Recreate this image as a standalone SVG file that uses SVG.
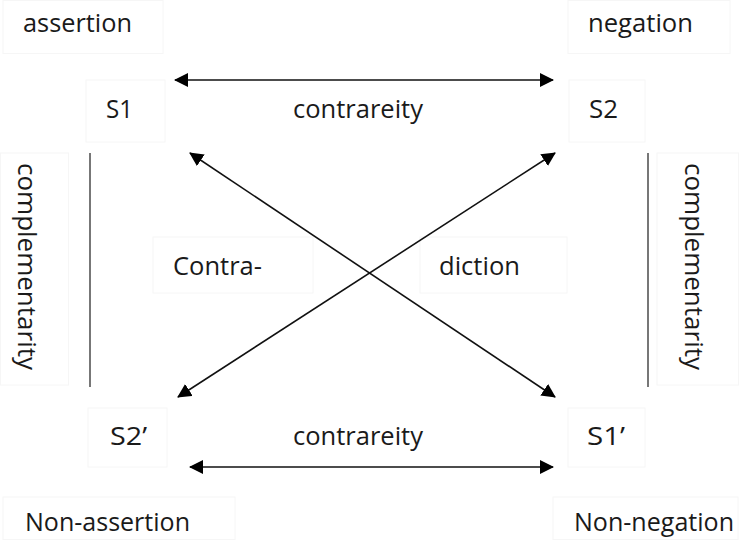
<svg xmlns="http://www.w3.org/2000/svg" width="739" height="540" viewBox="0 0 739 540">
  <defs>
    <style>
      .box { fill: #ffffff; stroke: #f6f6f6; stroke-width: 1; }
      .lbl { font-family: "Open Sans", "Liberation Sans", sans-serif; font-size: 26px; fill: #1a1a1a; }
      .conn { stroke: #111111; stroke-width: 1.6; fill: none; }
      .bar { stroke: #555555; stroke-width: 1.6; fill: none; }
    </style>
    <marker id="arr" markerUnits="userSpaceOnUse" viewBox="0 0 14 14" markerWidth="14" markerHeight="14" refX="13" refY="7" orient="auto-start-reverse">
      <path d="M0,0 L14,7 L0,14 z" fill="#000000"/>
    </marker>
  </defs>
  <rect width="739" height="540" fill="#ffffff"/>

  <g id="assertion">
    <rect class="box" x="3" y="0.5" width="160" height="53"/>
    <text class="lbl" x="23" y="32" textLength="109" lengthAdjust="spacingAndGlyphs">assertion</text>
  </g>
  <g id="negation">
    <rect class="box" x="568" y="0.5" width="162" height="53"/>
    <text class="lbl" x="588" y="32" textLength="105" lengthAdjust="spacingAndGlyphs">negation</text>
  </g>
  <g id="S1">
    <rect class="box" x="86" y="80" width="79" height="62"/>
    <text class="lbl" x="106" y="118" textLength="27" lengthAdjust="spacingAndGlyphs">S1</text>
  </g>
  <g id="S2">
    <rect class="box" x="569" y="80" width="76" height="62"/>
    <text class="lbl" x="589" y="118" textLength="29" lengthAdjust="spacingAndGlyphs">S2</text>
  </g>
  <g id="complementarity-left">
    <rect class="box" x="0.5" y="153" width="68" height="232"/>
    <text class="lbl" transform="translate(18,163) rotate(90)" x="0" y="0" textLength="207" lengthAdjust="spacingAndGlyphs">complementarity</text>
  </g>
  <g id="complementarity-right">
    <rect class="box" x="657" y="153" width="81.5" height="232"/>
    <text class="lbl" transform="translate(685,163) rotate(90)" x="0" y="0" textLength="207" lengthAdjust="spacingAndGlyphs">complementarity</text>
  </g>
  <g id="contra">
    <rect class="box" x="153" y="237" width="160" height="56"/>
    <text class="lbl" x="173" y="275" textLength="89" lengthAdjust="spacingAndGlyphs">Contra-</text>
  </g>
  <g id="diction">
    <rect class="box" x="420" y="237" width="147" height="56"/>
    <text class="lbl" x="439" y="275" textLength="81" lengthAdjust="spacingAndGlyphs">diction</text>
  </g>
  <g id="S2prime">
    <rect class="box" x="88" y="408" width="79" height="59"/>
    <text class="lbl" x="110" y="445" textLength="37" lengthAdjust="spacingAndGlyphs">S2’</text>
  </g>
  <g id="S1prime">
    <rect class="box" x="568" y="408" width="77" height="59"/>
    <text class="lbl" x="587" y="445" textLength="38" lengthAdjust="spacingAndGlyphs">S1’</text>
  </g>
  <g id="non-assertion">
    <rect class="box" x="3" y="497" width="232" height="42.5"/>
    <text class="lbl" x="25" y="531" textLength="165" lengthAdjust="spacingAndGlyphs">Non-assertion</text>
  </g>
  <g id="non-negation">
    <rect class="box" x="553" y="497" width="185" height="42.5"/>
    <text class="lbl" x="574" y="531" textLength="160" lengthAdjust="spacingAndGlyphs">Non-negation</text>
  </g>

  <g id="connectors">
    <line class="conn" x1="175" y1="80" x2="553" y2="80" marker-start="url(#arr)" marker-end="url(#arr)"/>
    <text class="lbl" x="293" y="118" textLength="130" lengthAdjust="spacingAndGlyphs">contrareity</text>
    <line class="conn" x1="190" y1="467" x2="553" y2="467" marker-start="url(#arr)" marker-end="url(#arr)"/>
    <text class="lbl" x="293" y="445" textLength="130" lengthAdjust="spacingAndGlyphs">contrareity</text>
    <line class="conn" x1="190" y1="153" x2="555" y2="397" marker-start="url(#arr)" marker-end="url(#arr)"/>
    <line class="conn" x1="555" y1="153" x2="178" y2="397" marker-start="url(#arr)" marker-end="url(#arr)"/>
    <line class="bar" x1="90" y1="153" x2="90" y2="387"/>
    <line class="bar" x1="648" y1="153" x2="648" y2="387"/>
  </g>
</svg>
